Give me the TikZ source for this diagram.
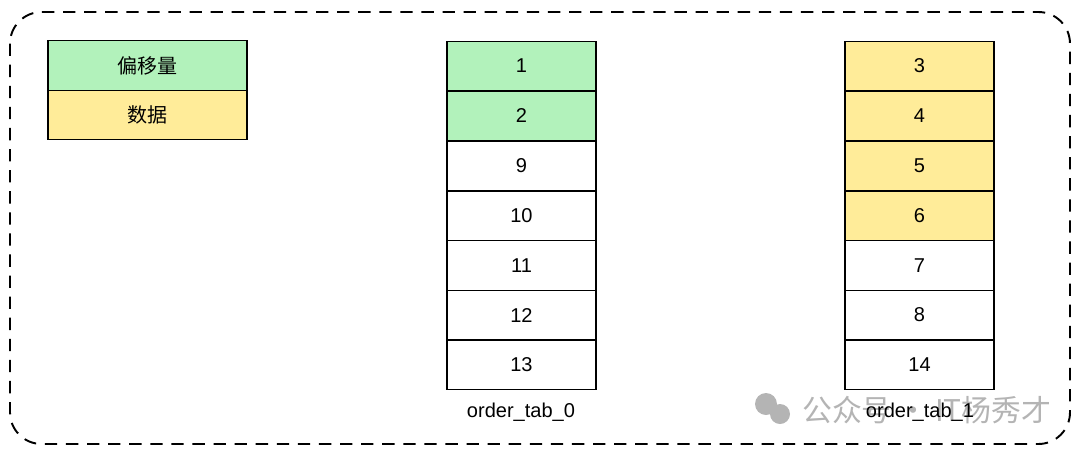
\documentclass[tikz,border=0pt]{standalone}
\usepackage{fontspec}
\setmainfont{Liberation Sans}
\newfontfamily\cjk{Noto Sans CJK SC}
\usetikzlibrary{positioning}
\definecolor{offgreen}{HTML}{B2F2BB}
\definecolor{datayellow}{HTML}{FFEC99}
\definecolor{markgray}{HTML}{B4B4B4}
\tikzstyle{cell}=[rectangle, draw=black, line width=0.6pt, fill=white,
        text centered, minimum width=2.98cm, minimum height=0.99cm, inner sep=0pt,
        font=\fontsize{11.4}{13}\selectfont]
\tikzstyle{off}=[cell, fill=offgreen]
\tikzstyle{data}=[cell, fill=datayellow]
\tikzstyle{legend}=[minimum width=3.98cm]
\tikzstyle{tablabel}=[font=\fontsize{11.4}{13}\selectfont]

\begin{document}
\begin{tikzpicture}[x=0.02cm,y=-0.02cm]
\useasboundingbox (0,0) rectangle (1080,454);
\draw[dashed, line width=1.1pt, dash pattern=on 7pt off 5pt, rounded corners=18pt] (10,12) rectangle (1070,444);
% legend
\node[off, legend] (legoff) at (147.5,65.5) {\cjk 偏移量};
\node[data, legend] (legdata) at (147.5,115) {\cjk 数据};
% order_tab_0
\node[off] (t0a) at (521.5,66) {1};
\node[off] (t0b) at (521.5,116) {2};
\node[cell] (t0c) at (521.5,166) {9};
\node[cell] (t0d) at (521.5,216) {10};
\node[cell] (t0e) at (521.5,265.5) {11};
\node[cell] (t0f) at (521.5,315) {12};
\node[cell] (t0g) at (521.5,365) {13};
% order_tab_1
\node[data] (t1a) at (919.5,66) {3};
\node[data] (t1b) at (919.5,116) {4};
\node[data] (t1c) at (919.5,166) {5};
\node[data] (t1d) at (919.5,216) {6};
\node[cell] (t1e) at (919.5,265.5) {7};
\node[cell] (t1f) at (919.5,315) {8};
\node[cell] (t1g) at (919.5,365) {14};
% watermark
\fill[markgray] (766,404) circle (11);
\fill[markgray] (780,414) circle (10);
\node[text=markgray, anchor=west, font=\cjk\fontsize{17}{19}\selectfont] (mark) at (796,410) {公众号 · IT杨秀才};
% labels
\node[tablabel] (lab0) at (521,412) {order\_tab\_0};
\node[tablabel] (lab1) at (920,412) {order\_tab\_1};
\end{tikzpicture}
\end{document}
